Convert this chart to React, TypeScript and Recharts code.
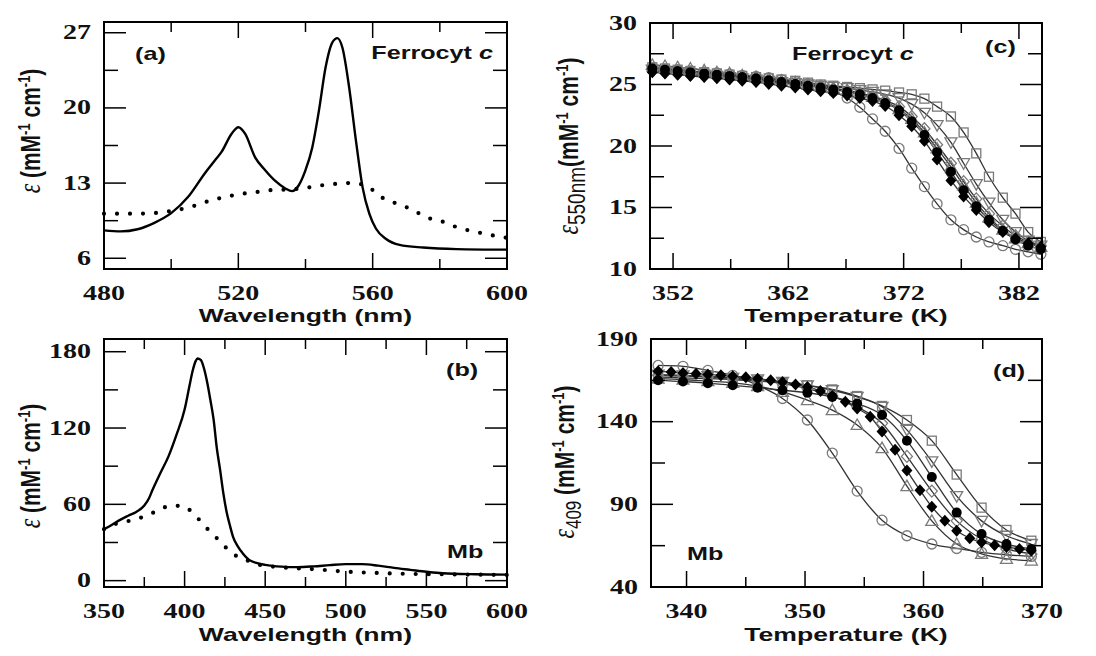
import React from "react";
import { LineChart, Line, XAxis, YAxis } from "recharts";

const SANS = "'Liberation Sans', sans-serif";
const SERIF = "'Liberation Serif', serif";
const SX = 1.4; // the figure is stretched sideways
const GREY = "#7a7a7a";

// (a) ferrocytochrome c, visible bands
const wlRed = [480, 485, 490, 495, 500, 505, 510, 513, 515, 518, 520, 522, 525, 528, 531, 534, 536, 538, 540, 542, 544, 546, 548, 549.5, 551, 553, 555, 557, 559, 561, 564, 568, 575, 585, 600];
const epsRed = [8.6, 8.5, 8.7, 9.3, 10.2, 11.7, 13.9, 15.1, 15.9, 17.6, 18.2, 17.6, 15.4, 14.2, 13.2, 12.5, 12.25, 12.8, 14.2, 16.3, 19.75, 23.8, 26.1, 26.5, 25.6, 21.9, 17.0, 12.6, 10.15, 8.75, 7.8, 7.25, 7.0, 6.85, 6.8];
const wlRedHot = [480, 490, 500, 506, 512, 516, 520, 525, 530, 535, 540, 545, 548, 552, 555, 558, 562, 567, 572, 576, 580, 585, 593, 600];
const epsRedHot = [10.15, 10.15, 10.4, 10.8, 11.4, 11.7, 11.95, 12.15, 12.35, 12.4, 12.55, 12.8, 12.9, 13.0, 12.95, 12.8, 11.8, 11.1, 10.5, 9.8, 9.5, 8.9, 8.3, 7.9];

// (b) myoglobin, Soret region
const wlMb = [350, 355, 360, 365, 370, 375, 378, 380, 385, 390, 395, 400, 403, 405, 407, 408, 410, 412, 414, 416, 418, 420, 422, 424, 426, 428, 430, 433, 436, 440, 445, 450, 460, 470, 480, 490, 500, 510, 520, 530, 540, 550, 560, 580, 600];
const epsMb = [40.5, 44, 47.8, 51, 54, 59, 65, 71, 84.6, 97.7, 114.8, 134.5, 153, 165, 173, 174.7, 173.5, 167, 156, 142, 126.6, 104, 87.3, 69, 54.4, 43.9, 34.7, 26.9, 21.6, 16.3, 13.8, 12.4, 11, 10.6, 11.2, 12.2, 13, 13, 11.8, 10, 8.5, 7, 5.8, 5, 4.7];
const wlMbHot = [350, 357, 364, 371, 378, 384, 391, 398, 402, 405, 410, 415, 420, 425, 431, 438, 446, 455, 465, 480, 500, 520, 540, 560, 580, 600];
const epsMbHot = [40.5, 44.5, 46.5, 48.8, 52, 55.5, 58.8, 58.8, 56.5, 53.6, 46.5, 39.6, 33.4, 26.8, 20.3, 16.3, 12.6, 11, 10, 9, 7.1, 6, 5.3, 5, 4.7, 4.5];

// (c) ferrocyt c melting at 550 nm
const tC = [350.2, 351.3, 352.4, 353.5, 354.7, 355.8, 356.9, 358.0, 359.2, 360.3, 361.4, 362.6, 363.7, 364.8, 365.9, 367.1, 368.2, 369.3, 370.4, 371.6, 372.7, 373.8, 374.9, 376.1, 377.2, 378.3, 379.4, 380.6, 381.7, 382.8, 383.9];
const cCircle = [26.3, 26.25, 26.2, 26.1, 26.0, 25.95, 25.85, 25.75, 25.65, 25.55, 25.4, 25.25, 25.05, 24.8, 24.45, 23.9, 23.15, 22.2, 21.2, 19.8, 18.2, 16.7, 15.3, 14.0, 13.2, 12.6, 12.2, 11.9, 11.6, 11.4, 11.2];
const cDiamond = [26.0, 25.9, 25.8, 25.7, 25.6, 25.5, 25.4, 25.3, 25.2, 25.05, 24.9, 24.75, 24.6, 24.45, 24.3, 24.1, 23.9, 23.65, 23.25, 22.5, 21.6, 20.4, 18.9, 17.2, 15.9, 14.8, 13.8, 13.0, 12.5, 12.1, 11.8];
const cDot = [26.3, 26.2, 26.1, 26.0, 25.9, 25.8, 25.7, 25.6, 25.5, 25.35, 25.2, 25.05, 24.9, 24.75, 24.6, 24.4, 24.2, 23.9, 23.5, 22.9, 22.0, 20.9, 19.5, 17.9, 16.4, 15.1, 14.0, 13.1, 12.4, 11.9, 11.6];
const cTri = [26.6, 26.5, 26.4, 26.3, 26.15, 26.0, 25.9, 25.75, 25.6, 25.45, 25.3, 25.15, 25.0, 24.85, 24.7, 24.5, 24.3, 24.0, 23.6, 23.0, 22.2, 21.1, 19.8, 18.3, 16.8, 15.4, 14.2, 13.2, 12.5, 12.1, 11.8];
const cODiamond = [26.1, 26.0, 25.9, 25.8, 25.7, 25.6, 25.5, 25.4, 25.3, 25.2, 25.1, 25.0, 24.9, 24.8, 24.65, 24.5, 24.3, 24.05, 23.7, 23.2, 22.4, 21.4, 20.1, 18.6, 17.1, 15.7, 14.5, 13.5, 12.7, 12.2, 11.9];
const cITri = [26.2, 26.1, 26.0, 25.9, 25.8, 25.7, 25.6, 25.5, 25.4, 25.3, 25.2, 25.1, 25.0, 24.9, 24.8, 24.7, 24.55, 24.4, 24.2, 23.9, 23.4, 22.7, 21.7, 20.3, 18.6, 16.9, 15.4, 14.0, 13.0, 12.3, 11.9];
const cSquare = [26.4, 26.3, 26.2, 26.1, 26.0, 25.9, 25.8, 25.7, 25.6, 25.5, 25.4, 25.3, 25.15, 25.0, 24.9, 24.8, 24.7, 24.6, 24.5, 24.35, 24.2, 23.85, 23.2, 22.4, 21.1, 19.4, 17.5, 15.8, 14.5, 13.0, 12.2];

// (d) Mb melting at 409 nm
const tD = [337.6, 339.7, 341.8, 343.9, 346.0, 348.1, 350.2, 352.3, 354.4, 356.5, 358.6, 360.7, 362.8, 364.9, 367.0, 369.1];
const tDFine = [337.6, 338.7, 339.7, 340.8, 341.8, 342.9, 343.9, 345.0, 346.0, 347.1, 348.1, 349.2, 350.2, 351.3, 352.3, 353.4, 354.4, 355.5, 356.5, 357.6, 358.6, 359.7, 360.7, 361.8, 362.8, 363.9, 364.9, 366.0, 367.0, 368.1, 369.1];
const dCircle = [174, 173.5, 171, 168, 162, 154, 141, 121, 98, 80.4, 71, 66, 63.3, 61, 59.5, 58.5];
const dTri = [166, 165.5, 164.5, 163.5, 161.5, 158, 153, 147, 138, 124, 101, 80, 66, 60, 57, 56];
const dODiamond = [168, 167.5, 167, 166, 165, 163, 160, 155.5, 149, 139, 119, 98, 80, 69, 63, 60];
const dDot = [165, 164.3, 163.3, 162, 160.5, 159, 157.5, 155, 151, 144, 128.5, 106.5, 85, 72, 66, 63];
const dITri = [168.5, 168, 167.5, 166.5, 165.5, 164, 162, 159, 155, 149, 135, 116, 95, 80, 71, 66];
const dSquare = [167, 166.5, 166, 165.5, 164.5, 163.5, 162, 159.5, 155.5, 149.5, 141, 128.5, 108, 88, 74.5, 68];
const dDiamond = [170.5, 170, 169.5, 169, 168.5, 168, 167.5, 166.8, 166, 165, 164, 162.5, 161, 158.5, 155.5, 152, 148, 143, 134, 123, 110.5, 98.5, 88.5, 80, 74, 69.5, 67, 65.3, 64.2, 63, 62];

const pts = (xs: number[], ys: number[]) => xs.map((t, i) => ({ t, v: ys[i] }));

const YW = 60;
const MT = 22;
const MR = 30;
const XH = 45;

// plot frames [left, top, right, bottom]
const boxA = [104, 22, 507, 269];
const boxB = [104, 339, 507, 587];
const boxC = [650, 23, 1042, 269];
const boxD = [651, 339, 1042, 587];

function Stretch({ x, y, children, size = 19, family = SANS, weight = 700, anchor = "start" }: any) {
  return (
    <g transform={`translate(${x},${y}) scale(${SX},1)`}>
      <text x={0} y={0} textAnchor={anchor} fill="#111" style={{ fontFamily: family, fontSize: size, fontWeight: weight }}>
        {children}
      </text>
    </g>
  );
}

const bottomTick = (majors: number[]) => (p: any) => {
  const major = majors.includes(p.payload.value);
  return (
    <g>
      <line x1={p.x} x2={p.x} y1={p.y} y2={p.y - (major ? 16 : 10)} stroke="#000" strokeWidth={1.5} />
      {major && (
        <Stretch x={p.x} y={p.y + 31} size={20} family={SERIF} anchor="middle">
          {p.payload.value}
        </Stretch>
      )}
    </g>
  );
};

const topTick = (majors: number[]) => (p: any) => {
  const major = majors.includes(p.payload.value);
  return <line x1={p.x} x2={p.x} y1={p.y} y2={p.y + (major ? 16 : 10)} stroke="#000" strokeWidth={1.5} />;
};

const leftTick = (majors: number[]) => (p: any) => {
  const major = majors.includes(p.payload.value);
  return (
    <g>
      <line x1={p.x} x2={p.x + (major ? 22 : 14)} y1={p.y} y2={p.y} stroke="#000" strokeWidth={1.5} />
      {major && (
        <Stretch x={p.x - 13} y={p.y + 6.5} size={20} family={SERIF} anchor="end">
          {p.payload.value}
        </Stretch>
      )}
    </g>
  );
};

const rightTick = (majors: number[]) => (p: any) => {
  const major = majors.includes(p.payload.value);
  return <line x1={p.x} x2={p.x - (major ? 22 : 14)} y1={p.y} y2={p.y} stroke="#000" strokeWidth={1.5} />;
};

const marker = (shape: string) => (p: any) => {
  const { cx, cy, index } = p;
  const k = `${shape}${index}`;
  if (cx == null || cy == null) return <g key={k} />;
  const open = { fill: "none", stroke: GREY, strokeWidth: 1.3 };
  switch (shape) {
    case "circle":
      return <circle key={k} cx={cx} cy={cy} r={5} {...open} />;
    case "dot":
      return <circle key={k} cx={cx} cy={cy} r={5} fill="#000" />;
    case "square":
      return <rect key={k} x={cx - 4.5} y={cy - 4.5} width={9} height={9} {...open} />;
    case "diamond":
      return <polygon key={k} points={`${cx},${cy - 6} ${cx + 5.5},${cy} ${cx},${cy + 6} ${cx - 5.5},${cy}`} fill="#000" />;
    case "odiamond":
      return <polygon key={k} points={`${cx},${cy - 6} ${cx + 5.5},${cy} ${cx},${cy + 6} ${cx - 5.5},${cy}`} {...open} />;
    case "tri":
      return <polygon key={k} points={`${cx},${cy - 6} ${cx + 6},${cy + 4.5} ${cx - 6},${cy + 4.5}`} {...open} />;
    default:
      return <polygon key={k} points={`${cx},${cy + 6} ${cx + 6},${cy - 4.5} ${cx - 6},${cy - 4.5}`} {...open} />;
  }
};

function Panel({ box, xDomain, xTicks, xMajor, yDomain, yTicks, yMajor, anchorData, children }: any) {
  const [L, T, R, B] = box;
  const w = R - L;
  const h = B - T;
  const frame = { stroke: "#000", strokeWidth: 2 };
  return (
    <div style={{ position: "absolute", left: L - YW, top: T - MT }}>
      <LineChart width={YW + w + MR} height={MT + h + XH} margin={{ top: MT - 1, right: MR - 1, bottom: 0, left: 0 }}>
        <XAxis type="number" dataKey="t" domain={xDomain} ticks={xTicks} interval={0} height={XH} tickSize={0} tickMargin={0} tickLine={false} axisLine={frame} tick={bottomTick(xMajor)} />
        <XAxis xAxisId="top" orientation="top" type="number" dataKey="t" domain={xDomain} ticks={xTicks} interval={0} height={1} tickSize={0} tickMargin={0} tickLine={false} axisLine={frame} tick={topTick(xMajor)} />
        <YAxis type="number" domain={yDomain} ticks={yTicks} interval={0} width={YW} tickSize={0} tickMargin={0} tickLine={false} axisLine={frame} tick={leftTick(yMajor)} />
        <YAxis yAxisId="r" orientation="right" type="number" domain={yDomain} ticks={yTicks} interval={0} width={1} tickSize={0} tickMargin={0} tickLine={false} axisLine={frame} tick={rightTick(yMajor)} />
        {/* invisible series so the mirrored top/right axes get drawn */}
        <Line xAxisId="top" yAxisId="r" data={anchorData} dataKey="v" stroke="none" dot={false} isAnimationActive={false} />
        {children}
      </LineChart>
    </div>
  );
}

const spectrumLines = (solid: any[], dotted: any[]) => [
  <Line key="hot" data={dotted} dataKey="v" type="monotone" stroke="#000" strokeWidth={4.2} strokeDasharray="0 13" strokeLinecap="round" dot={false} isAnimationActive={false} />,
  <Line key="native" data={solid} dataKey="v" type="monotone" stroke="#000" strokeWidth={2.4} dot={false} isAnimationActive={false} />,
];

const meltLines = (series: { t: number[]; v: number[]; shape: string }[]) =>
  series.map((s) => (
    <Line key={s.shape} data={pts(s.t, s.v)} dataKey="v" type="monotone" stroke="#333" strokeWidth={1.3} dot={marker(s.shape)} isAnimationActive={false} />
  ));

function YLabel({ x, y, sub, gap }: any) {
  return (
    <g transform={`translate(${x},${y}) rotate(-90) scale(1,1.3)`}>
      <text x={0} y={0} textAnchor="middle" fill="#111" style={{ fontFamily: SANS, fontSize: 21, fontWeight: 700 }}>
        <tspan style={{ fontFamily: SERIF, fontStyle: "italic", fontWeight: 400, fontSize: 24 }}>ε</tspan>
        {sub && (
          <tspan style={{ fontWeight: 400, fontSize: sub.length > 3 ? 19 : 17 }} dy={5}>
            {sub}
          </tspan>
        )}
        <tspan dy={sub ? -5 : 0}>{gap ? " " : ""}(mM</tspan>
        <tspan style={{ fontSize: 13 }} dy={-8}>-1</tspan>
        <tspan dy={8}> cm</tspan>
        <tspan style={{ fontSize: 13 }} dy={-8}>-1</tspan>
        <tspan dy={8}>)</tspan>
      </text>
    </g>
  );
}

const FrameRect = ({ box }: any) => (
  <rect x={box[0]} y={box[1]} width={box[2] - box[0]} height={box[3] - box[1]} fill="none" stroke="#000" strokeWidth={2} />
);

export default function App() {
  return (
    <div style={{ position: "absolute", left: 0, top: 0, width: 1096, height: 656, background: "#fff", overflow: "hidden" }}>
      <Panel box={boxA} xDomain={[480, 600]} xTicks={[480, 500, 520, 540, 560, 580, 600]} xMajor={[480, 520, 560, 600]} yDomain={[5, 28]} yTicks={[6, 9.5, 13, 16.5, 20, 23.5, 27]} yMajor={[6, 13, 20, 27]} anchorData={pts(wlRed, epsRed)}>
        {spectrumLines(pts(wlRed, epsRed), pts(wlRedHot, epsRedHot))}
      </Panel>
      <Panel box={boxB} xDomain={[350, 600]} xTicks={[350, 375, 400, 425, 450, 475, 500, 525, 550, 575, 600]} xMajor={[350, 400, 450, 500, 550, 600]} yDomain={[-5, 190]} yTicks={[0, 30, 60, 90, 120, 150, 180]} yMajor={[0, 60, 120, 180]} anchorData={pts(wlMb, epsMb)}>
        {spectrumLines(pts(wlMb, epsMb), pts(wlMbHot, epsMbHot))}
      </Panel>
      <Panel box={boxC} xDomain={[350, 384]} xTicks={[352, 357, 362, 367, 372, 377, 382]} xMajor={[352, 362, 372, 382]} yDomain={[10, 30]} yTicks={[10, 12.5, 15, 17.5, 20, 22.5, 25, 27.5, 30]} yMajor={[10, 15, 20, 25, 30]} anchorData={pts(tC, cCircle)}>
        {meltLines([
          { t: tC, v: cCircle, shape: "circle" },
          { t: tC, v: cTri, shape: "tri" },
          { t: tC, v: cODiamond, shape: "odiamond" },
          { t: tC, v: cITri, shape: "itri" },
          { t: tC, v: cSquare, shape: "square" },
          { t: tC, v: cDot, shape: "dot" },
          { t: tC, v: cDiamond, shape: "diamond" },
        ])}
      </Panel>
      <Panel box={boxD} xDomain={[337, 370]} xTicks={[340, 345, 350, 355, 360, 365, 370]} xMajor={[340, 350, 360, 370]} yDomain={[40, 190]} yTicks={[40, 65, 90, 115, 140, 165, 190]} yMajor={[40, 90, 140, 190]} anchorData={pts(tD, dCircle)}>
        {meltLines([
          { t: tD, v: dCircle, shape: "circle" },
          { t: tD, v: dTri, shape: "tri" },
          { t: tD, v: dODiamond, shape: "odiamond" },
          { t: tD, v: dITri, shape: "itri" },
          { t: tD, v: dSquare, shape: "square" },
          { t: tD, v: dDot, shape: "dot" },
          { t: tDFine, v: dDiamond, shape: "diamond" },
        ])}
      </Panel>
      <svg width={1096} height={656} style={{ position: "absolute", left: 0, top: 0, pointerEvents: "none" }}>
        <FrameRect box={boxA} />
        <FrameRect box={boxB} />
        <FrameRect box={boxC} />
        <FrameRect box={boxD} />

        <Stretch x={305.5} y={322} anchor="middle">Wavelength (nm)</Stretch>
        <Stretch x={305.5} y={641} anchor="middle">Wavelength (nm)</Stretch>
        <Stretch x={846} y={322} anchor="middle">Temperature (K)</Stretch>
        <Stretch x={846} y={641} anchor="middle">Temperature (K)</Stretch>

        <Stretch x={135} y={60} size={18}>(a)</Stretch>
        <Stretch x={493} y={59} size={18} anchor="end">
          Ferrocyt <tspan style={{ fontStyle: "italic" }}>c</tspan>
        </Stretch>
        <Stretch x={446} y={376} size={18}>(b)</Stretch>
        <Stretch x={447} y={558} size={18}>Mb</Stretch>
        <Stretch x={792} y={60} size={18}>
          Ferrocyt <tspan style={{ fontStyle: "italic" }}>c</tspan>
        </Stretch>
        <Stretch x={985} y={53} size={18}>(c)</Stretch>
        <Stretch x={993} y={377} size={18}>(d)</Stretch>
        <Stretch x={687} y={560} size={18}>Mb</Stretch>

        <YLabel x={40} y={131} gap />
        <YLabel x={40} y={466} gap />
        <YLabel x={578} y={146} sub="550nm" />
        <YLabel x={574} y={462} sub="409" gap />
      </svg>
    </div>
  );
}
